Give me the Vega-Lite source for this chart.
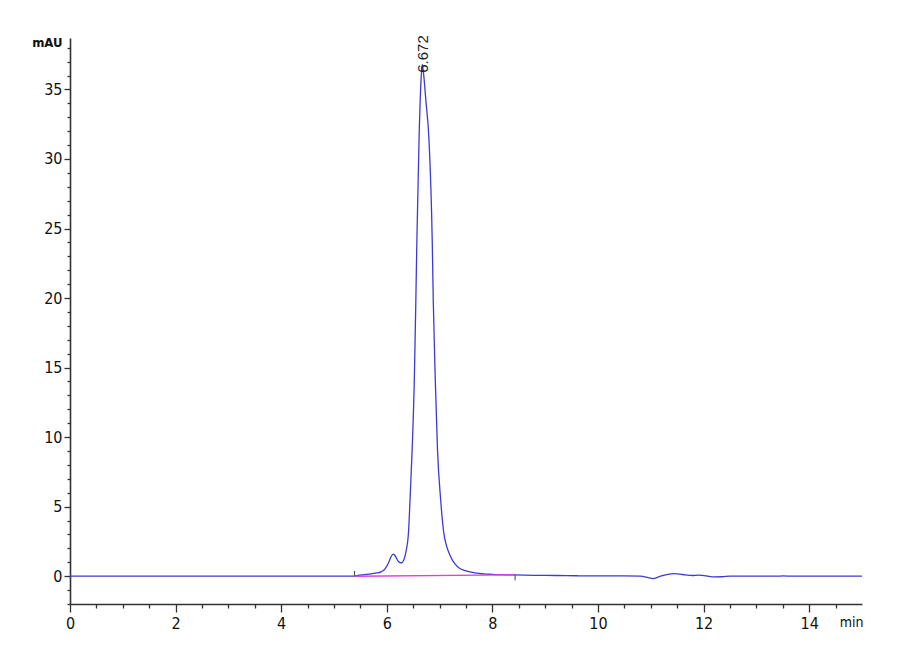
{
  "$schema": "https://vega.github.io/schema/vega-lite/v6.json",
  "width": 792,
  "height": 566,
  "autosize": {"type": "none"},
  "padding": {"left": 70, "top": 38, "right": 38, "bottom": 56},
  "background": "white",
  "config": {
    "view": {"stroke": null},
    "axis": {"grid": false, "domainColor": "#333333", "tickColor": "#333333", "labelColor": "#111111", "titleColor": "#111111", "labelFont": "Liberation Sans Narrow, DejaVu Sans Condensed, Liberation Sans", "titleFont": "Liberation Sans Narrow, DejaVu Sans Condensed, Liberation Sans", "titleFontWeight": "normal"}
  },
  "datasets": {
    "trace": [
      {"t": 0, "v": 0}, {"t": 1, "v": 0}, {"t": 2, "v": 0}, {"t": 3, "v": 0}, {"t": 4, "v": 0}, {"t": 5, "v": 0},
      {"t": 5.37, "v": 0}, {"t": 5.45, "v": 0.05}, {"t": 5.55, "v": 0.1}, {"t": 5.7, "v": 0.17}, {"t": 5.81, "v": 0.23},
      {"t": 5.9, "v": 0.33}, {"t": 5.97, "v": 0.55}, {"t": 6.03, "v": 0.95}, {"t": 6.08, "v": 1.4}, {"t": 6.12, "v": 1.58},
      {"t": 6.16, "v": 1.45}, {"t": 6.21, "v": 1.1}, {"t": 6.27, "v": 0.95}, {"t": 6.32, "v": 1.15}, {"t": 6.36, "v": 1.7},
      {"t": 6.41, "v": 3.1}, {"t": 6.44, "v": 5.5}, {"t": 6.48, "v": 9.1}, {"t": 6.52, "v": 13.9}, {"t": 6.55, "v": 19.8},
      {"t": 6.57, "v": 24.2}, {"t": 6.61, "v": 31.3}, {"t": 6.645, "v": 35.4}, {"t": 6.672, "v": 36.8}, {"t": 6.70, "v": 36.0}, {"t": 6.74, "v": 34.2},
      {"t": 6.8, "v": 31.3}, {"t": 6.86, "v": 24.2}, {"t": 6.88, "v": 19.8}, {"t": 6.92, "v": 13.9}, {"t": 6.96, "v": 9.1},
      {"t": 7.02, "v": 5.5}, {"t": 7.08, "v": 3.1}, {"t": 7.13, "v": 2.2}, {"t": 7.18, "v": 1.65}, {"t": 7.25, "v": 1.1}, {"t": 7.35, "v": 0.65},
      {"t": 7.5, "v": 0.38}, {"t": 7.7, "v": 0.22}, {"t": 8.0, "v": 0.13}, {"t": 8.4, "v": 0.09}, {"t": 8.8, "v": 0.06},
      {"t": 9.2, "v": 0.05}, {"t": 9.6, "v": 0.03}, {"t": 10.0, "v": 0.02}, {"t": 10.5, "v": 0.02}, {"t": 10.8, "v": 0.0},
      {"t": 10.95, "v": -0.1}, {"t": 11.04, "v": -0.17}, {"t": 11.15, "v": -0.05}, {"t": 11.3, "v": 0.12}, {"t": 11.45, "v": 0.19},
      {"t": 11.6, "v": 0.12}, {"t": 11.8, "v": 0.05}, {"t": 11.9, "v": 0.07}, {"t": 12.05, "v": 0.02}, {"t": 12.2, "v": -0.05},
      {"t": 12.35, "v": -0.04}, {"t": 12.5, "v": 0.0}, {"t": 13.0, "v": 0.0}, {"t": 13.4, "v": 0.0}, {"t": 13.5, "v": 0.02},
      {"t": 13.7, "v": 0.0}, {"t": 14.0, "v": 0.0}, {"t": 14.5, "v": 0.01}, {"t": 15.0, "v": 0.0}
    ],
    "baseline": [{"t": 5.4, "v": 0.0}, {"t": 8.43, "v": 0.1}],
    "marks": [{"t": 5.39, "v": 0.0, "v2": 0.38}, {"t": 8.43, "v": -0.3, "v2": 0.1}],
    "peak": [{"t": 6.68, "v": 36.2, "label": "6.672"}]
  },
  "layer": [
    {
      "data": {"name": "trace"},
      "mark": {"type": "line", "color": "#3b3bd4", "strokeWidth": 1.3, "interpolate": "monotone"},
      "encoding": {
        "x": {"field": "t", "type": "quantitative", "scale": {"domain": [0, 15], "nice": false, "zero": false},
          "axis": {"orient": "bottom", "values": [0, 2, 4, 6, 8, 10, 12, 14], "tickSize": 8, "tickWidth": 1.3, "domainWidth": 1.6, "labelPadding": 3, "labelFontSize": 16, "labelFlush": false,
            "title": "min", "titleFontSize": 14, "titleAnchor": "end", "titleAlign": "right", "titleBaseline": "top", "titleX": 793, "titleY": 11}},
        "y": {"field": "v", "type": "quantitative", "scale": {"domain": [-2, 38.7], "nice": false, "zero": false},
          "axis": {"orient": "left", "values": [0, 5, 10, 15, 20, 25, 30, 35], "tickSize": 6, "tickWidth": 1.3, "domainWidth": 1.6, "labelPadding": 2, "labelFontSize": 16,
            "title": "mAU", "titleFontSize": 13, "titleFontWeight": "bold", "titleAngle": 0, "titleAlign": "right", "titleBaseline": "middle", "titleX": -8, "titleY": 4}}
      }
    },
    {
      "data": {"name": "baseline"},
      "mark": {"type": "line", "color": "#e040e0", "strokeWidth": 1.4},
      "encoding": {
        "x": {"field": "t", "type": "quantitative",
          "axis": {"orient": "bottom", "values": [0.5, 1, 1.5, 2.5, 3, 3.5, 4.5, 5, 5.5, 6.5, 7, 7.5, 8.5, 9, 9.5, 10.5, 11, 11.5, 12.5, 13, 13.5, 14.5], "tickSize": 4, "tickWidth": 1.3, "labels": false, "domain": false, "title": null}},
        "y": {"field": "v", "type": "quantitative",
          "axis": {"orient": "left", "values": [-2, -1, 1, 2, 3, 4, 6, 7, 8, 9, 11, 12, 13, 14, 16, 17, 18, 19, 21, 22, 23, 24, 26, 27, 28, 29, 31, 32, 33, 34, 36, 37, 38], "tickSize": 3, "tickWidth": 1.3, "labels": false, "domain": false, "title": null}}
      }
    },
    {
      "data": {"name": "marks"},
      "mark": {"type": "rule", "color": "#444444", "strokeWidth": 1},
      "encoding": {
        "x": {"field": "t", "type": "quantitative", "axis": null},
        "y": {"field": "v", "type": "quantitative", "axis": null},
        "y2": {"field": "v2"}
      }
    },
    {
      "data": {"name": "peak"},
      "mark": {"type": "text", "angle": 270, "align": "left", "baseline": "middle", "font": "Liberation Sans", "fontSize": 15, "color": "#222222"},
      "encoding": {
        "x": {"field": "t", "type": "quantitative", "axis": null},
        "y": {"field": "v", "type": "quantitative", "axis": null},
        "text": {"field": "label"}
      }
    }
  ],
  "resolve": {"axis": {"x": "independent", "y": "independent"}}
}
